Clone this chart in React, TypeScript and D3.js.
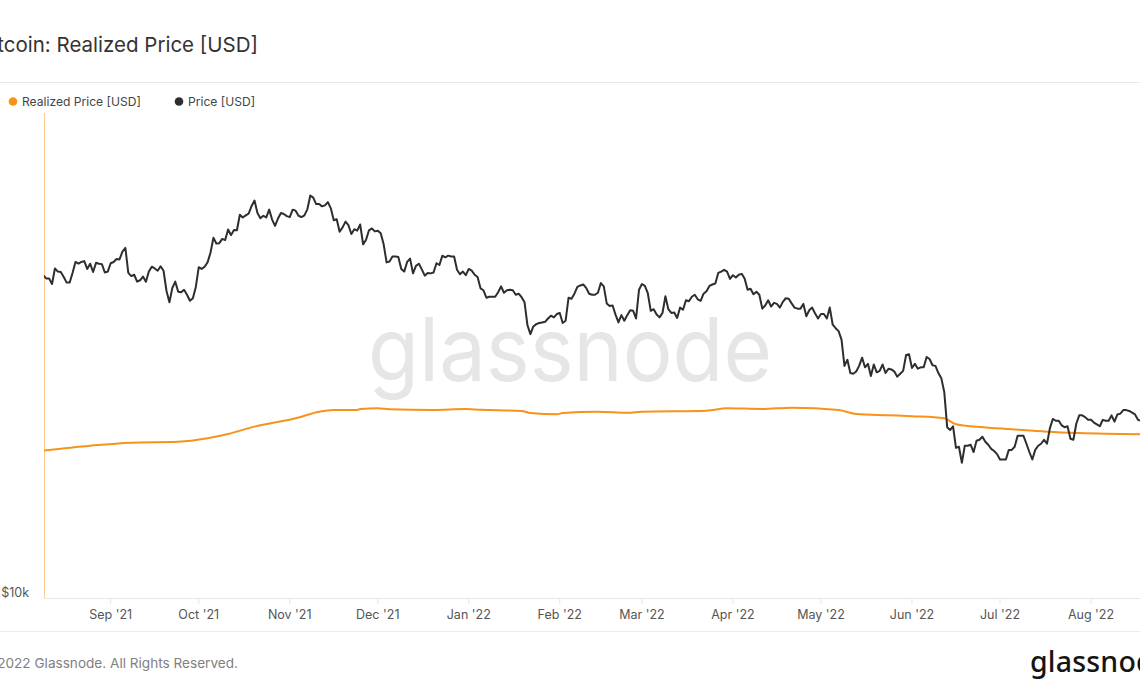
import React from "react";
import * as d3 from "d3";

// ---- Data (USD thousands) ----
const priceStart = "2021-08-09";
const priceAug21 = [46.3, 45.6, 45.6, 44.4, 47.8, 47.1, 47.0, 45.9, 44.7, 44.7, 46.8, 49.3, 48.9, 49.3, 49.5, 47.7, 48.9, 47.0, 49.1, 48.9, 48.8, 46.9, 47.1];
const priceSep21 = [49.0, 49.3, 50.0, 49.9, 51.8, 52.7, 46.8, 46.1, 46.4, 44.9, 45.2, 46.0, 44.9, 47.1, 48.2, 47.8, 47.3, 48.3, 47.3, 43.0, 40.7, 43.6, 44.9, 42.8, 42.7, 43.2, 42.2, 41.0, 41.5, 43.8];
const priceOct21 = [48.1, 47.7, 48.2, 49.2, 51.5, 55.3, 53.8, 53.9, 55.0, 54.7, 57.5, 56.0, 57.4, 57.3, 61.7, 60.9, 61.5, 62.0, 64.3, 66.0, 62.2, 60.7, 61.4, 60.9, 63.2, 60.3, 58.5, 60.6, 62.2, 61.9, 61.3];
const priceNov21 = [61.0, 63.2, 62.9, 61.4, 61.0, 61.5, 63.3, 67.6, 66.9, 64.9, 64.9, 64.2, 64.5, 65.5, 63.6, 60.1, 60.4, 56.9, 58.1, 59.7, 58.7, 56.3, 57.6, 57.2, 58.9, 53.6, 54.8, 57.3, 57.8, 57.0];
const priceDec21 = [57.2, 56.5, 53.6, 49.2, 49.4, 50.6, 50.6, 50.5, 47.7, 47.1, 49.3, 50.1, 46.7, 48.4, 48.9, 47.6, 46.2, 46.8, 46.7, 46.9, 49.0, 48.6, 50.8, 50.4, 50.8, 50.6, 50.6, 47.5, 46.5, 47.1, 46.3];
const priceJan22 = [47.7, 47.3, 46.4, 45.9, 43.5, 43.1, 41.6, 41.8, 41.8, 41.8, 42.7, 43.9, 42.6, 43.1, 43.2, 43.1, 42.2, 42.4, 41.7, 40.7, 36.5, 35.0, 36.3, 36.7, 36.9, 37.0, 37.1, 37.7, 38.2, 37.9, 38.5];
const priceFeb22 = [38.7, 36.9, 37.3, 41.6, 41.4, 42.4, 43.8, 44.1, 44.3, 43.6, 42.4, 42.2, 42.2, 42.6, 44.6, 43.9, 40.5, 40.0, 40.1, 38.4, 37.0, 38.3, 37.3, 38.3, 39.2, 39.1, 37.7, 43.2];
const priceMar22 = [44.4, 44.0, 42.5, 39.1, 39.4, 38.4, 37.9, 38.7, 41.9, 39.4, 38.7, 38.8, 37.8, 39.7, 39.3, 41.1, 40.9, 41.8, 42.2, 41.3, 41.0, 42.4, 42.9, 44.0, 44.3, 44.5, 46.8, 47.1, 47.5, 47.1, 45.5];
const priceApr22 = [46.3, 45.8, 46.4, 46.6, 45.5, 43.2, 43.4, 42.3, 42.8, 42.2, 39.5, 40.1, 41.1, 39.9, 40.6, 40.4, 39.7, 40.8, 41.5, 41.4, 40.5, 39.7, 39.5, 39.5, 40.4, 38.1, 39.2, 39.7, 38.6, 37.7];
const priceMay22 = [38.5, 38.5, 37.7, 39.7, 36.6, 36.0, 35.5, 34.1, 30.1, 31.0, 29.1, 29.0, 29.3, 30.1, 31.3, 29.9, 30.4, 28.7, 30.3, 29.2, 29.4, 30.3, 29.1, 29.7, 29.6, 29.3, 28.6, 29.0, 29.4, 31.7, 31.8];
const priceJun22 = [29.8, 30.4, 29.7, 29.9, 29.9, 31.4, 31.1, 30.2, 30.1, 29.1, 28.4, 26.6, 22.5, 22.2, 22.6, 20.4, 20.5, 19.0, 20.6, 20.6, 20.7, 20.0, 21.1, 21.2, 21.5, 21.0, 20.7, 20.3, 20.1, 19.8];
const priceJul22 = [19.3, 19.3, 19.3, 20.2, 20.2, 20.5, 21.6, 21.6, 21.6, 20.8, 20.0, 19.3, 20.2, 20.6, 20.8, 21.2, 20.8, 22.4, 23.4, 23.2, 23.2, 22.7, 22.5, 22.6, 21.3, 21.2, 22.9, 23.8, 23.8, 23.6, 23.3];
const priceAug22 = [23.3, 23.0, 22.8, 22.6, 23.3, 23.2, 23.2, 23.8, 23.1, 23.9, 24.0, 24.4, 24.4, 24.3, 24.1, 23.9, 23.3, 23.2];

const realizedDates = ["2021-08-09", "2021-08-25", "2021-09-08", "2021-09-24", "2021-10-04", "2021-10-11", "2021-10-20", "2021-11-03", "2021-11-11", "2021-11-16", "2021-11-24", "2021-11-25", "2021-12-01", "2021-12-05", "2021-12-20", "2021-12-31", "2022-01-05", "2022-01-19", "2022-01-22", "2022-01-31", "2022-02-02", "2022-02-14", "2022-02-24", "2022-03-01", "2022-03-23", "2022-03-30", "2022-04-11", "2022-04-21", "2022-05-07", "2022-05-13", "2022-05-24", "2022-06-01", "2022-06-12", "2022-06-16", "2022-06-24", "2022-07-05", "2022-07-17", "2022-07-28", "2022-08-18"];
const realizedValues = [20.13, 20.61, 20.91, 21.0, 21.35, 21.79, 22.56, 23.47, 24.22, 24.42, 24.42, 24.53, 24.62, 24.5, 24.42, 24.53, 24.45, 24.3, 24.07, 23.92, 24.07, 24.22, 24.1, 24.22, 24.34, 24.62, 24.53, 24.69, 24.42, 23.96, 23.81, 23.7, 23.47, 22.81, 22.52, 22.28, 22.03, 21.89, 21.77];

const yTickValues = [10];
const yTickLabels = ["$10k"];
const legendLabels = ["Realized Price [USD]", "Price [USD]"];
const title = "Bitcoin: Realized Price [USD]";

// ---- Layout ----
const W = 1140;
const H = 694;
const plotLeft = 44;
const plotRight = 1140;
const plotTop = 113;
const plotBottom = 598;
const ORANGE = "#f7931a";
const DARK = "#2e2e2e";
const FONT = "Inter, 'Noto Sans', sans-serif";

export default function App() {
  const allPrices = [
    ...priceAug21, ...priceSep21, ...priceOct21, ...priceNov21, ...priceDec21,
    ...priceJan22, ...priceFeb22, ...priceMar22, ...priceApr22, ...priceMay22,
    ...priceJun22, ...priceJul22, ...priceAug22,
  ];
  const start = new Date(priceStart + "T00:00:00Z");
  const priceData = allPrices.map((v, i) => ({ d: d3.utcDay.offset(start, i), v }));
  const rpData = realizedDates.map((s, i) => ({ d: new Date(s + "T00:00:00Z"), v: realizedValues[i] }));

  const x = d3
    .scaleUtc()
    .domain([new Date("2021-09-01T00:00:00Z"), new Date("2022-08-01T00:00:00Z")])
    .range([110.7, 1091]);
  const y = d3.scaleLog().domain([10, 100]).range([plotBottom, plotTop]);

  const line = d3
    .line<{ d: Date; v: number }>()
    .x((p) => x(p.d))
    .y((p) => y(p.v));
  const rpLine = d3
    .line<{ d: Date; v: number }>()
    .x((p) => x(p.d))
    .y((p) => y(p.v))
    .curve(d3.curveMonotoneX);

  const months = d3.utcMonth.range(new Date("2021-09-01T00:00:00Z"), new Date("2022-08-02T00:00:00Z"));
  const fmt = d3.utcFormat("%b '%y");

  return (
    <svg
      width={W}
      height={H}
      viewBox={`0 0 ${W} ${H}`}
      style={{ position: "fixed", left: 0, top: 0, display: "block", background: "#fff" }}
      fontFamily={FONT}
    >
      <defs>
        <clipPath id="plotClip">
          <rect x={plotLeft} y={plotTop - 5} width={plotRight - plotLeft} height={plotBottom - plotTop + 5} />
        </clipPath>
      </defs>
      <rect x={0} y={0} width={W} height={H} fill="#fff" />

      {/* Title */}
      <text x={258} y={52} textAnchor="end" fontSize={20.5} fill="#333">
        {title}
      </text>
      <line x1={0} x2={W} y1={82.5} y2={82.5} stroke="#e8e8e8" strokeWidth={1} />

      {/* Legend */}
      <circle cx={13} cy={101.5} r={4.3} fill={ORANGE} />
      <text x={22} y={106} fontSize={12.1} fill="#444">
        {legendLabels[0]}
      </text>
      <circle cx={179} cy={101.5} r={4.3} fill={DARK} />
      <text x={188} y={106} fontSize={12.1} fill="#444">
        {legendLabels[1]}
      </text>

      {/* Watermark */}
      <text
        x={368}
        y={381}
        fontSize={88}
        fill="#e6e6e6"
        textLength={404}
        lengthAdjust="spacingAndGlyphs"
      >
        glassnode
      </text>

      {/* Axes */}
      <line x1={plotLeft} x2={plotRight} y1={plotBottom + 0.5} y2={plotBottom + 0.5} stroke="#e6e6e6" />
      {months.map((m) => (
        <g key={m.toISOString()}>
          <line
            x1={x(m)}
            x2={x(m)}
            y1={plotBottom}
            y2={plotBottom + 6}
            stroke="#e6e6e6"
          />
          <text x={x(m)} y={618.5} textAnchor="middle" fontSize={12.5} fill="#555">
            {fmt(m)}
          </text>
        </g>
      ))}
      {yTickValues.map((v, i) => (
        <text key={v} x={29} y={y(v) - 1.5} textAnchor="end" fontSize={12.5} fill="#555">
          {yTickLabels[i]}
        </text>
      ))}
      <line x1={plotLeft + 0.5} x2={plotLeft + 0.5} y1={plotTop} y2={plotBottom} stroke="#fcc98f" strokeWidth={1} />

      {/* Series */}
      <g clipPath="url(#plotClip)">
        <path d={rpLine(rpData) || ""} fill="none" stroke={ORANGE} strokeWidth={2} strokeLinejoin="round" />
        <path d={line(priceData) || ""} fill="none" stroke={DARK} strokeWidth={2} strokeLinejoin="round" />
      </g>

      {/* Footer */}
      <line x1={0} x2={W} y1={631.5} y2={631.5} stroke="#ececec" strokeWidth={1} />
      <text x={238} y={668} textAnchor="end" fontSize={13.6} fill="#808080">
        © 2022 Glassnode. All Rights Reserved.
      </text>
      <text
        x={1030}
        y={672}
        fontSize={28.5}
        fontWeight={500}
        letterSpacing={0.2}
        fill="#151515"
        fontFamily="'Noto Sans', Inter, sans-serif"
      >
        glassnode
      </text>
    </svg>
  );
}
